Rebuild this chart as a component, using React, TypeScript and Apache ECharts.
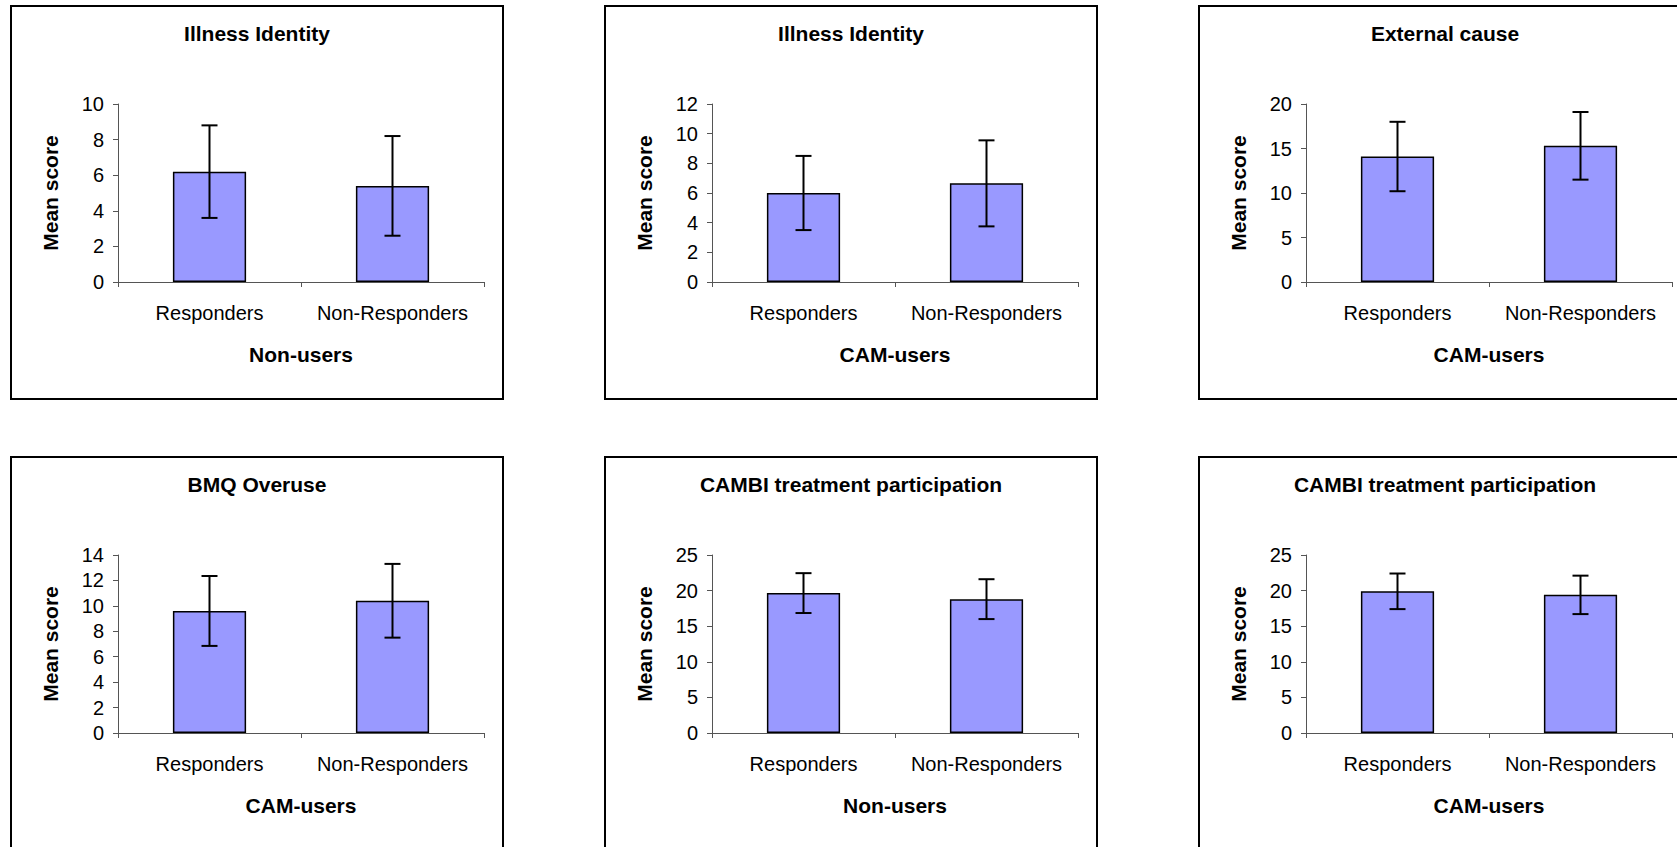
import React, { useEffect, useRef } from "react";
import * as echarts from "echarts";

// ---- Data ----
const categories = ["Responders", "Non-Responders"];

const panelTitles = [
  "Illness Identity",
  "Illness Identity",
  "External cause",
  "BMQ Overuse",
  "CAMBI treatment participation",
  "CAMBI treatment participation",
];
const groupNames = ["Non-users", "CAM-users", "CAM-users", "CAM-users", "Non-users", "CAM-users"];

const illnessIdentityNonUsersMean = [6.2, 5.4];
const illnessIdentityNonUsersSd = [2.6, 2.8];
const illnessIdentityCamMean = [6.0, 6.65];
const illnessIdentityCamSd = [2.5, 2.9];
const externalCauseCamMean = [14.1, 15.3];
const externalCauseCamSd = [3.9, 3.8];
const bmqOveruseCamMean = [9.6, 10.4];
const bmqOveruseCamSd = [2.75, 2.9];
const cambiNonUsersMean = [19.65, 18.8];
const cambiNonUsersSd = [2.8, 2.8];
const cambiCamMean = [19.9, 19.4];
const cambiCamSd = [2.5, 2.7];

const panelMeans = [
  illnessIdentityNonUsersMean,
  illnessIdentityCamMean,
  externalCauseCamMean,
  bmqOveruseCamMean,
  cambiNonUsersMean,
  cambiCamMean,
];
const panelSds = [
  illnessIdentityNonUsersSd,
  illnessIdentityCamSd,
  externalCauseCamSd,
  bmqOveruseCamSd,
  cambiNonUsersSd,
  cambiCamSd,
];
const yMax = [10, 12, 20, 14, 25, 25];
const yInterval = [2, 2, 5, 2, 5, 5];

const FONT = "'Liberation Sans', Arial, sans-serif";

export default function App() {
  const ref = useRef<HTMLDivElement>(null);

  useEffect(() => {
    if (!ref.current) return;
    const chart = echarts.init(ref.current, null, { renderer: "svg" });

    const colStep = 594;
    const rowStep = 451;
    const grids: any[] = [];
    const xAxes: any[] = [];
    const yAxes: any[] = [];
    const series: any[] = [];
    const graphics: any[] = [];

    for (let p = 0; p < 6; p++) {
      const c = p % 3;
      const r = Math.floor(p / 3);
      const ox = c * colStep;
      const oy = r * rowStep;

      graphics.push({
        type: "rect",
        shape: { x: 11 + ox, y: 6 + oy, width: 492, height: 393 },
        style: { fill: "none", stroke: "#000", lineWidth: 2 },
        silent: true,
      });
      graphics.push({
        type: "text",
        x: 257 + ox,
        y: 33 + oy,
        style: {
          text: panelTitles[p],
          font: `bold 21px ${FONT}`,
          fill: "#000",
          textAlign: "center",
          textVerticalAlign: "middle",
        },
        silent: true,
      });

      grids.push({ left: 118 + ox, top: 104 + oy, width: 366, height: 178, containLabel: false });

      xAxes.push({
        type: "category",
        gridIndex: p,
        data: categories,
        boundaryGap: true,
        name: groupNames[p],
        nameLocation: "middle",
        nameGap: 62,
        nameTextStyle: { fontFamily: FONT, fontWeight: "bold", fontSize: 21, color: "#000" },
        axisLine: { show: true, lineStyle: { color: "#555", width: 1 } },
        axisTick: { show: true, length: 5, lineStyle: { color: "#555" } },
        axisLabel: {
          fontFamily: FONT,
          fontSize: 20,
          color: "#000",
          margin: 21,
          interval: 0,
          hideOverlap: false,
        },
        splitLine: { show: false },
      });

      yAxes.push({
        type: "value",
        gridIndex: p,
        min: 0,
        max: yMax[p],
        interval: yInterval[p],
        name: "Mean score",
        nameLocation: "middle",
        nameGap: 57,
        nameTextStyle: { fontFamily: FONT, fontWeight: "bold", fontSize: 21, color: "#000" },
        axisLine: { show: true, lineStyle: { color: "#555", width: 1 } },
        axisTick: { show: true, length: 5, lineStyle: { color: "#555" } },
        axisLabel: { fontFamily: FONT, fontSize: 20, color: "#000", margin: 14 },
        splitLine: { show: false },
      });

      series.push({
        type: "bar",
        xAxisIndex: p,
        yAxisIndex: p,
        data: panelMeans[p],
        barWidth: "40%",
        itemStyle: { color: "#9999FF", borderColor: "#000", borderWidth: 1.5 },
        silent: true,
      });

      const errData = panelMeans[p].map((m, i) => [i, m - panelSds[p][i], m + panelSds[p][i]]);
      series.push({
        type: "custom",
        xAxisIndex: p,
        yAxisIndex: p,
        data: errData,
        encode: { x: 0, y: [1, 2] },
        z: 5,
        silent: true,
        renderItem: (params: any, api: any) => {
          const idx = api.value(0);
          const lo = api.coord([idx, api.value(1)]);
          const hi = api.coord([idx, api.value(2)]);
          const half = 8;
          const st = { stroke: "#000", lineWidth: 2 };
          return {
            type: "group",
            children: [
              { type: "line", shape: { x1: lo[0], y1: lo[1], x2: hi[0], y2: hi[1] }, style: st },
              { type: "line", shape: { x1: hi[0] - half, y1: hi[1], x2: hi[0] + half, y2: hi[1] }, style: st },
              { type: "line", shape: { x1: lo[0] - half, y1: lo[1], x2: lo[0] + half, y2: lo[1] }, style: st },
            ],
          };
        },
      });
    }

    chart.setOption({
      animation: false,
      backgroundColor: "#fff",
      grid: grids,
      xAxis: xAxes,
      yAxis: yAxes,
      series,
      graphic: graphics,
    });

    return () => {
      chart.dispose();
    };
  }, []);

  return (
    <div
      ref={ref}
      style={{ position: "fixed", left: 0, top: 0, width: 1677, height: 847, background: "#fff" }}
    />
  );
}
